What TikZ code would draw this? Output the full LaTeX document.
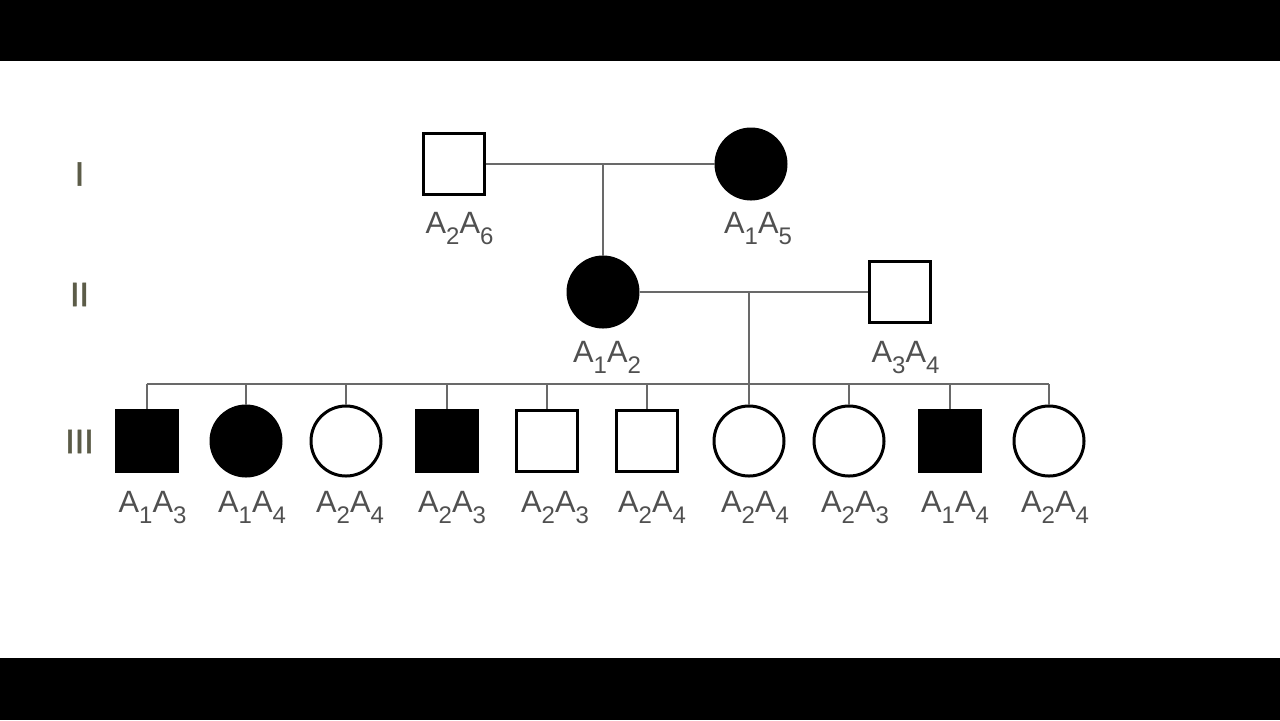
\documentclass[tikz,border=0pt]{standalone}
\usepackage{fontspec}
\setmainfont{Liberation Sans}
\newfontfamily\romanfont[FakeBold=1.5]{Liberation Sans}
\usetikzlibrary{positioning}

\definecolor{genogray}{RGB}{80,80,80}
\definecolor{romangray}{RGB}{92,92,72}
\definecolor{linegray}{RGB}{105,105,105}

\newcommand{\geno}[2]{A\raisebox{-5.5pt}{\fontsize{12}{12}\selectfont #1}A\raisebox{-5.5pt}{\fontsize{12}{12}\selectfont #2}}

\begin{document}
\begin{tikzpicture}[
		x=0.5pt, y=-0.5pt,
		male/.style={draw, rectangle, line width=1.5pt, minimum size=30.5pt, inner sep=0pt},
		female/.style={draw, circle, line width=1.5pt, minimum size=35pt, inner sep=0pt},
		affected/.style={fill=black},
		geno/.style={anchor=base, text=genogray, inner sep=0pt, font=\fontsize{15.4}{18}\selectfont},
		gen/.style={text=romangray, inner sep=0pt, font=\romanfont\fontsize{17}{20}\selectfont},
		line/.style={draw=linegray, line width=1pt}
		]
		\useasboundingbox (0,0) rectangle (1280,720);
		% Black bars
		\fill[black] (0,0) rectangle (1280,61);
		\fill[black] (0,658) rectangle (1280,720);
		
		% Generation labels
		\node[gen] (g1) at (79.5,174) {I};
		\node[gen] (g2) at (79.5,294.5) {II};
		\node[gen] (g3) at (79.5,441.5) {III};
		
		% Generation I
		\node[male] (i1) at (453.5,164) {};
		\node[female, affected] (i2) at (751,164) {};
		\coordinate (m1) at (603,164);
		
		% Generation II
		\node[female, affected] (ii1) at (603,292) {};
		\node[male] (ii2) at (900,292) {};
		\coordinate (m2) at (749,292);
		
		% Generation III
		\node[male, affected] (c1) at (146.5,441) {};
		\node[female, affected] (c2) at (246,441) {};
		\node[female] (c3) at (346,441) {};
		\node[male, affected] (c4) at (446.5,441) {};
		\node[male] (c5) at (546.5,441) {};
		\node[male] (c6) at (646.5,441) {};
		\node[female] (c7) at (749,441) {};
		\node[female] (c8) at (849,441) {};
		\node[male, affected] (c9) at (949.5,441) {};
		\node[female] (c10) at (1049,441) {};
		\coordinate (sib) at (0,384);
		
		% Genotypes
		\node[geno] (t_i1) at (459.5,233) {\geno{2}{6}};
		\node[geno] (t_i2) at (758,233) {\geno{1}{5}};
		\node[geno] (t_ii1) at (607,362) {\geno{1}{2}};
		\node[geno] (t_ii2) at (905.5,362) {\geno{3}{4}};
		\node[geno] (t_c1) at (152.5,512) {\geno{1}{3}};
		\node[geno] (t_c2) at (252,512) {\geno{1}{4}};
		\node[geno] (t_c3) at (350,512) {\geno{2}{4}};
		\node[geno] (t_c4) at (452,512) {\geno{2}{3}};
		\node[geno] (t_c5) at (555,512) {\geno{2}{3}};
		\node[geno] (t_c6) at (652,512) {\geno{2}{4}};
		\node[geno] (t_c7) at (755,512) {\geno{2}{4}};
		\node[geno] (t_c8) at (855,512) {\geno{2}{3}};
		\node[geno] (t_c9) at (955,512) {\geno{1}{4}};
		\node[geno] (t_c10) at (1055,512) {\geno{2}{4}};
		
		% Lines
		\draw[line] (i1) -- (i2);
		\draw[line] (m1) -- (ii1);
		\draw[line] (ii1) -- (ii2);
		\draw[line] (m2) -- (c7);
		\draw[line] (c1.north |- sib) -- (c10.north |- sib);
		\draw[line] (c1.north |- sib) -- (c1.north);
		\draw[line] (c2.north |- sib) -- (c2.north);
		\draw[line] (c3.north |- sib) -- (c3.north);
		\draw[line] (c4.north |- sib) -- (c4.north);
		\draw[line] (c5.north |- sib) -- (c5.north);
		\draw[line] (c6.north |- sib) -- (c6.north);
		\draw[line] (c8.north |- sib) -- (c8.north);
		\draw[line] (c9.north |- sib) -- (c9.north);
		\draw[line] (c10.north |- sib) -- (c10.north);
	\end{tikzpicture}
\end{document}
